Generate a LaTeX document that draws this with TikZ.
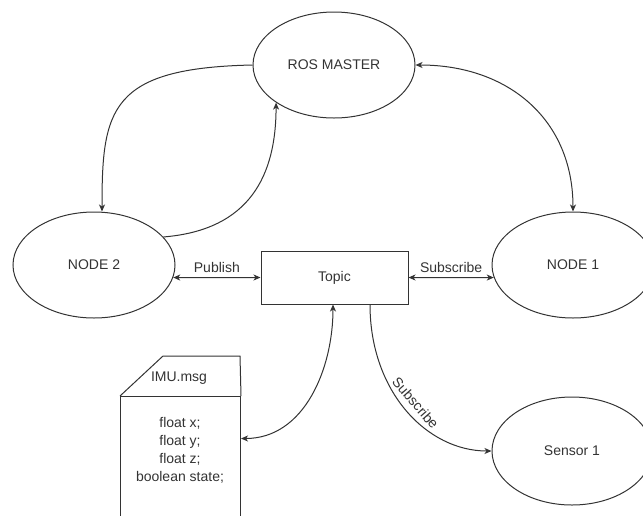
\documentclass[tikz,border=0pt]{standalone}
\usepackage{fontspec}
\setmainfont{Liberation Sans}
\usetikzlibrary{shapes.geometric,arrows.meta,calc}

\begin{document}
\begin{tikzpicture}[x=1pt,y=-1pt,
  every node/.style={font=\fontsize{14}{18}\selectfont, text=black!80},
  ell/.style={draw=black!80, ellipse, line width=1pt, minimum width=162pt,
              minimum height=106pt, inner sep=0pt},
  topicbox/.style={draw=black!80, rectangle, line width=1pt, minimum width=147pt,
                   minimum height=53pt, inner sep=0pt},
  link/.style={draw=black!80, line width=1pt},
  tip/.tip={Stealth[length=7pt,width=6pt,inset=2pt]},
  onearrow/.style={link, -tip},
  twoarrow/.style={link, tip-tip},
  lbl/.style={inner sep=4pt}
]
\useasboundingbox (0,0) rectangle (643,515);

% processes and the master
\node[ell] (master) at (334,65) {ROS MASTER};
\node[ell] (node2) at (94,265) {NODE 2};
\node[ell] (node1) at (573,265) {NODE 1};
\node[ell, minimum width=160pt, minimum height=108pt] (sensor) at (572,451) {Sensor 1};

% topic
\node[topicbox] (topic) at (334.5,277.5) {Topic};

% message definition card
\node[draw=black!80, line width=1pt, anchor=north west, minimum width=120pt,
      minimum height=130pt, inner sep=0pt] (imubody) at (120,396) {};
\draw[link] (imubody.north west) -- (163,356) -- (240,356) -- (imubody.north east);
\node (imuhead) at (179,378) {IMU.msg};
\node[align=center] (imufields) at (180,450) {float x;\\float y;\\float z;\\boolean state;};

% master connections
\draw[twoarrow] (master.east) to[out=0,in=90,looseness=1.1] (node1.north);
\draw[onearrow] (master.west) .. controls +(-143,3) and +(0,-102) .. ([xshift=8pt]node2.north);
\draw[onearrow] (node2.22) .. controls +(87,-7) and +(0,72) .. (master.213);

% publish / subscribe
\draw[twoarrow] (node2.-9) -- node[lbl, above] {Publish} (topic.west);
\draw[twoarrow] (topic.east) -- node[lbl, above] {Subscribe} (node1.189);
\draw[twoarrow] ([xshift=-1.5pt]topic.south) to[out=-90,in=0] ([yshift=23pt]imubody.east);
\draw[onearrow] ([xshift=35.5pt]topic.south) .. controls +(0,88) and +(-64,0) ..
  node[inner sep=6pt, sloped, above, pos=0.5] {Subscribe} (sensor.west);
\end{tikzpicture}
\end{document}
